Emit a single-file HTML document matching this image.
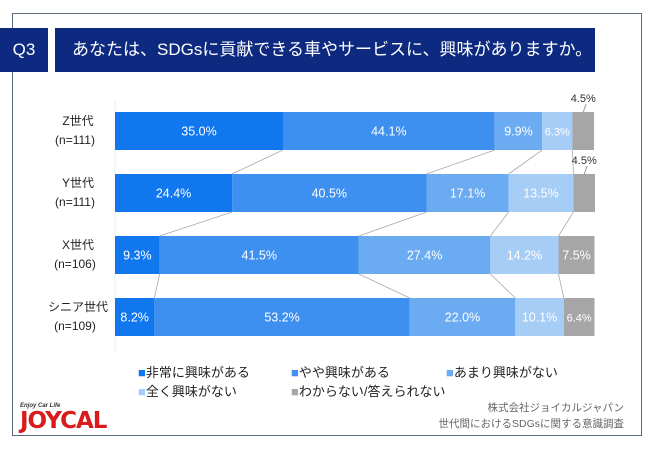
<!DOCTYPE html>
<html><head><meta charset="utf-8"><style>
body{margin:0;width:650px;height:450px;background:#fff;font-family:"Liberation Sans","Noto Sans CJK JP",sans-serif;overflow:hidden;position:relative}
.abs{position:absolute}
</style></head><body>
<div class="abs" style="left:12px;top:13px;width:628px;height:421px;border:1px solid #5a6a80"></div>
<div class="abs" style="left:0;top:28px;width:48px;height:44px;background:#0d2a80;color:#fff;font-size:17px;line-height:44px;text-align:center">Q3</div>
<div class="abs" style="left:55px;top:28px;width:540px;height:44px;background:#0d2a80;color:#fff;font-size:17px;line-height:44px;padding-left:17px;box-sizing:border-box">あなたは、SDGsに貢献できる車やサービスに、興味がありますか。</div>
<svg id="chart" class="abs" style="left:0;top:0" width="650" height="450"></svg>
<div class="abs" style="left:138px;top:363px;font-size:13px;color:#222;line-height:19px">
<div class="abs" style="left:0;top:0;white-space:nowrap"><span style="color:#1177ee">■</span>非常に興味がある</div>
<div class="abs" style="left:153px;top:0;white-space:nowrap"><span style="color:#3d8ff0">■</span>やや興味がある</div>
<div class="abs" style="left:308px;top:0;white-space:nowrap"><span style="color:#6aabf2">■</span>あまり興味がない</div>
<div class="abs" style="left:0;top:19px;white-space:nowrap"><span style="color:#a6cdf6">■</span>全く興味がない</div>
<div class="abs" style="left:153px;top:19px;white-space:nowrap"><span style="color:#a6a6a6">■</span>わからない/答えられない</div>
</div>
<div class="abs" style="right:26px;top:400px;font-size:10.5px;color:#666;text-align:right;line-height:16px">株式会社ジョイカルジャパン<br>世代間におけるSDGsに関する意識調査</div>
<div class="abs" style="left:20px;top:403px;color:#d81b1b;font-weight:bold">
<div style="font-size:6px;color:#333;font-style:italic">Enjoy Car Life</div>
<div style="font-size:23px;letter-spacing:-1px;line-height:24px;font-family:'DejaVu Sans',sans-serif">JOYCAL</div></div>
<script>
const groups=["Z世代","Y世代","X世代","シニア世代"];
const ns=["(n=111)","(n=111)","(n=106)","(n=109)"];
const s1=[35.0,24.4,9.3,8.2];
const s2=[44.1,40.5,41.5,53.2];
const s3=[9.9,17.1,27.4,22.0];
const s4=[6.3,13.5,14.2,10.1];
const s5=[4.5,4.5,7.5,6.4];
const colors=["#1177ee","#3d8ff0","#6aabf2","#a6cdf6","#a6a6a6"];
const svg=document.getElementById('chart');const NS="http://www.w3.org/2000/svg";
const x0=115,pw=4.8,barTop=[112,174,236,298],bh=38;
const x=v=>x0+v*pw;
function mk(t,a){const e=document.createElementNS(NS,t);for(const k in a)e.setAttribute(k,a[k]);svg.appendChild(e);return e;}
const series=[s1,s2,s3,s4,s5];
const ax=mk('line',{x1:x0,y1:100,x2:x0,y2:352,stroke:'#eee'});

groups.forEach((g,i)=>{
 let cum=0;const y=barTop[i];
 series.forEach((s,j)=>{
  const v=s[i];
  const r=mk('rect',{x:x(cum),y:y,width:v*pw,height:bh,fill:colors[j]});
  
  let tx=x(cum+v/2),ty=y+bh/2+4.5,fill='#fff';
  if(j==4&&v<5){ty=y-10;fill='#333';const l=mk('line',{x1:tx,y1:y,x2:tx+3,y2:y-8,stroke:'#999'});}
  const t=mk('text',{x:tx,y:ty,'text-anchor':'middle','font-size':v<7?11:12.5,fill:fill});
  t.textContent=v.toFixed(1)+'%';
  
  cum+=v;
  if(i<groups.length-1&&j<4){let c2=0;for(let k=0;k<=j;k++)c2+=series[k][i+1];
   const l=mk('line',{x1:x(cum),y1:y+bh,x2:x(c2),y2:barTop[i+1],stroke:'#aaa','stroke-width':0.8});
   }
 });
 const a=mk('text',{x:78,y:y+13,'text-anchor':'middle','font-size':12,fill:'#222'});a.textContent=g;
 
 const b=mk('text',{x:75,y:y+32,'text-anchor':'middle','font-size':12,fill:'#222'});b.textContent=ns[i];
 
});
</script>
</body></html>
